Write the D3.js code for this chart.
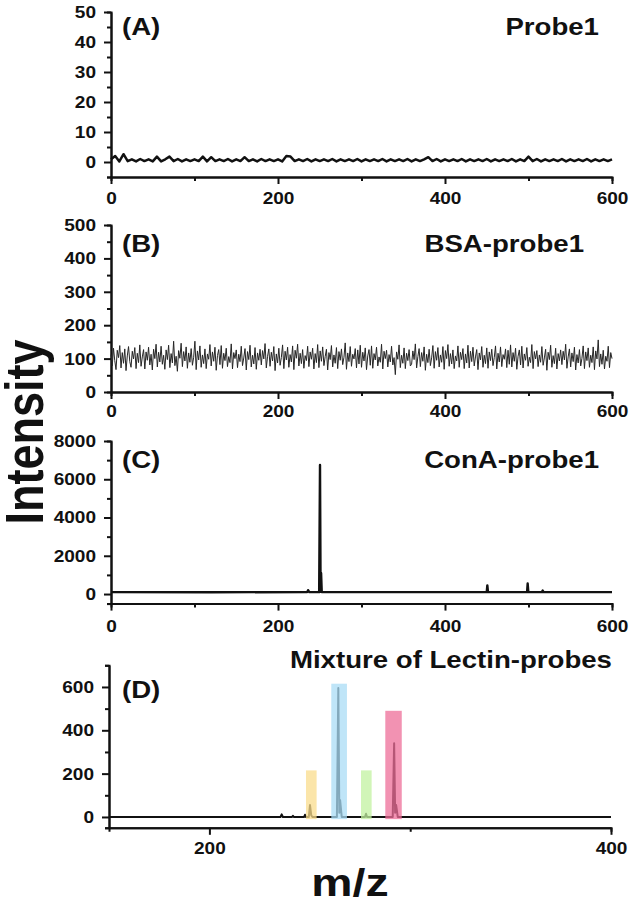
<!DOCTYPE html>
<html>
<head>
<meta charset="utf-8">
<script src="https://cdn.jsdelivr.net/npm/d3@7"></script>
<style>
  body { margin: 0; background: #fff; }
  svg { display: block; font-family: "Liberation Sans", Arial, sans-serif; font-weight: bold; }
  .axis path, .axis line { stroke: #111; stroke-width: 2; }
  .axis text { font-size: 17px; font-weight: bold; fill: #111; font-family: "Liberation Sans", Arial, sans-serif; }
</style>
</head>
<body>
<svg id="chart" width="639" height="903"></svg>
<script>
// (A) Probe1: intensity every 5 m/z from 0 to 600
const probe1Step = 5;
const probe1Values = [0.9,2.0,0.2,2.6,0.3,0.9,0.2,1.0,0.3,0.9,0.2,1.8,0.2,0.9,1.8,0.3,1.0,0.2,0.9,0.3,
  0.9,0.3,1.8,0.2,1.6,0.3,0.9,0.3,1.0,0.2,0.9,0.3,1.6,0.3,0.9,0.2,1.0,0.3,0.9,0.3,
  0.9,0.2,2.0,1.8,0.3,0.9,0.3,1.0,0.2,0.9,0.3,0.9,0.3,1.0,0.2,0.9,0.3,0.9,0.3,1.0,
  0.2,0.9,0.3,0.9,0.3,1.0,0.2,0.9,0.3,0.9,0.3,1.0,0.2,0.9,0.3,0.9,1.6,0.3,1.0,0.2,
  0.9,0.3,0.9,0.3,1.0,0.2,0.9,0.3,0.9,0.3,1.0,0.2,0.9,0.3,0.9,0.3,1.0,0.2,0.9,0.3,
  1.8,0.3,1.0,0.2,0.9,0.3,0.9,0.3,1.0,0.2,0.9,0.3,0.9,0.3,1.0,0.2,0.9,0.3,0.9,0.3,0.9];

// (B) BSA-probe1: intensity every 1.5 m/z from 0 to 600
const bsaStep = 1.5;
const bsaValues = [
  112,78,131,94,67,125,103,139,72,118,86,129,64,108,136,91,74,122,99,133,
  70,116,88,141,77,105,127,69,120,95,134,81,113,66,128,100,143,75,119,90,
  137,83,110,68,126,97,140,73,115,87,152,79,107,62,124,101,146,76,121,93,
  135,71,117,89,130,80,104,152,67,123,96,138,74,111,85,129,70,114,98,142,
  78,120,92,134,65,109,127,82,139,71,116,94,131,76,106,88,144,69,118,100,
  126,73,113,91,137,79,102,130,66,121,97,140,75,110,84,133,68,117,95,128,
  81,124,99,145,72,107,129,77,119,93,136,64,114,87,131,80,103,141,70,122,
  96,134,74,112,90,138,67,125,101,143,78,116,85,127,71,109,94,137,76,120,
  98,131,69,115,88,142,73,123,92,135,79,106,128,66,118,97,139,75,111,86,
  133,70,121,95,129,82,104,147,68,117,91,136,77,113,99,130,72,126,84,140,
  74,119,93,132,67,108,127,80,138,71,115,96,134,78,105,89,143,69,122,100,
  125,75,112,90,137,81,103,52,120,98,141,73,110,86,132,70,116,94,127,78,
  83,123,97,144,72,106,130,76,118,92,135,65,113,88,128,79,102,139,71,121,
  95,133,75,111,89,136,68,124,100,142,77,115,84,126,70,108,93,138,74,119,
  97,130,70,114,87,140,72,122,91,134,78,105,127,67,117,96,136,74,110,85,
  132,71,120,94,128,79,103,138,69,116,90,135,76,112,98,129,73,125,83,141,
  75,118,92,131,68,107,126,81,137,72,114,95,133,77,104,88,142,70,121,99,
  124,76,111,89,136,80,102,128,65,119,97,140,74,109,85,131,69,115,93,126,
  82,122,96,143,71,105,129,75,117,91,134,66,112,87,127,78,101,138,70,120,
  94,132,74,110,88,135,67,123,99,156,76,114,83,125,69,107,92,137,73,118,
  100];

// (C) ConA-probe1: [m/z, intensity]
const conaPoints = [[0,100],[120,95],[235,100],[236,200],[237.5,100],[249.3,100],[250.3,6750],[251,120],
  [251.6,1100],[252.4,100],[300,100],[450,100],[450.7,450],[451.5,100],[498.3,100],[499,550],[499.8,100],
  [516,100],[517,180],[518,100],[600,100]];

// (D) Mixture of Lectin-probes: [m/z, intensity]
const mixPoints = [[150,0],[235.4,0],[236,12],[236.6,0],[241.2,0],[241.6,5],[242,0],[247.2,0],[247.6,10],[248,0],
  [249.5,0],[250.1,55],[250.7,8],[251.3,0],[263.5,0],[264.2,595],[264.7,20],[265.1,78],[265.9,0],
  [277.5,0],[278,15],[278.5,0],[291.3,0],[292,340],[292.5,20],[293,55],[293.8,0],[400,0]];
const mixBands = [
  {from: 248.1, to: 253.4, top: 215, color: "#f9dc8c"},
  {from: 260.7, to: 268.5, top: 615, color: "#a9dcf6"},
  {from: 275.5, to: 280.8, top: 215, color: "#c2f2a0"},
  {from: 287.6, to: 295.8, top: 490, color: "#ee6e98"}
];

const panels = [
  {tag: "(A)", title: "Probe1", xRange: [111, 612], xDomain: [0, 600], yRange: [177, 12], yDomain: [-5, 50],
   yMajor: [0,10,20,30,40,50], yMinor: [-5,5,15,25,35,45], xMajor: [0,200,400,600], xMinor: [100,300,500],
   tagY: 35, titleX: 599, titleY: 35, pad: 8, lineW: 2.5,
   data: probe1Values.map((v, i) => [i * probe1Step, v])},
  {tag: "(B)", title: "BSA-probe1", xRange: [111, 612], xDomain: [0, 600], yRange: [392, 225], yDomain: [0, 500],
   yMajor: [0,100,200,300,400,500], yMinor: [50,150,250,350,450], xMajor: [0,200,400,600], xMinor: [100,300,500],
   tagY: 252, titleX: 584, titleY: 252, pad: 6, lineW: 1, color: "#262626",
   data: bsaValues.map((v, i) => [i * bsaStep, v])},
  {tag: "(C)", title: "ConA-probe1", xRange: [111, 612], xDomain: [0, 600], yRange: [603.6, 441], yDomain: [-500, 8000],
   yMajor: [0,2000,4000,6000,8000], yMinor: [-500,1000,3000,5000,7000], xMajor: [0,200,400,600], xMinor: [100,300,500],
   tagY: 468, titleX: 599, titleY: 468, pad: 9, lineW: 2.4,
   data: conaPoints},
  {tag: "(D)", title: "Mixture of Lectin-probes", xRange: [109, 611], xDomain: [150, 400], yRange: [827.8, 665.3], yDomain: [-50, 700],
   yMajor: [0,200,400,600], yMinor: [-50,100,300,500,700], xMajor: [200,400], xMinor: [300],
   tagY: 698, titleX: 612, titleY: 668, pad: 7, lineW: 2,
   data: mixPoints, bands: mixBands}
];

const svg = d3.select("#chart");

// the source figure is drawn a little wider than the font: widen text glyphs
function widen(sel, k) {
  sel.each(function() {
    const w = this.getComputedTextLength();
    d3.select(this).attr("textLength", w * k).attr("lengthAdjust", "spacingAndGlyphs");
  });
}

panels.forEach(p => {
  const x = d3.scaleLinear().domain(p.xDomain).range(p.xRange);
  const y = d3.scaleLinear().domain(p.yDomain).range(p.yRange);
  const g = svg.append("g");
  const bottom = p.yRange[0];

  // minor ticks
  g.append("g").attr("class", "axis").attr("transform", `translate(${p.xRange[0]},0)`)
    .call(d3.axisLeft(y).tickValues(p.yMinor).tickSize(4).tickFormat(""));
  g.append("g").attr("class", "axis").attr("transform", `translate(0,${bottom})`)
    .call(d3.axisBottom(x).tickValues(p.xMinor).tickSize(4).tickFormat(""));
  // major ticks
  const yAx = g.append("g").attr("class", "axis").attr("transform", `translate(${p.xRange[0]},0)`)
    .call(d3.axisLeft(y).tickValues(p.yMajor).tickSize(7).tickSizeOuter(0).tickPadding(8).tickFormat(d3.format("d")));
  const xAx = g.append("g").attr("class", "axis").attr("transform", `translate(0,${bottom})`)
    .call(d3.axisBottom(x).tickValues(p.xMajor).tickSize(7).tickSizeOuter(0).tickPadding(p.pad).tickFormat(d3.format("d")));
  widen(yAx.selectAll("text"), 1.12);
  widen(xAx.selectAll("text"), 1.12);

  const line = d3.line().x(d => x(d[0])).y(d => y(d[1]));
  g.append("path").datum(p.data)
    .attr("d", line)
    .attr("fill", "none")
    .attr("stroke", p.color || "#111")
    .attr("stroke-width", p.lineW)
    .attr("stroke-linejoin", "round");

  if (p.bands) {
    g.selectAll("rect.band").data(p.bands).join("rect")
      .attr("class", "band")
      .attr("x", d => x(d.from))
      .attr("width", d => x(d.to) - x(d.from))
      .attr("y", d => y(d.top))
      .attr("height", d => y(-10) - y(d.top))
      .attr("fill", d => d.color)
      .attr("opacity", 0.75);
  }

  const tag = g.append("text").attr("x", 122).attr("y", p.tagY)
    .attr("font-size", 24).attr("fill", "#111").text(p.tag);
  const title = g.append("text").attr("x", p.titleX).attr("y", p.titleY)
    .attr("text-anchor", "end").attr("font-size", 24).attr("fill", "#111").text(p.title);
  widen(tag, 1.15);
  widen(title, 1.15);
});

svg.append("text")
  .attr("transform", "translate(43,432) rotate(-90) scale(1,1.18)")
  .attr("text-anchor", "middle")
  .attr("font-size", 45).attr("fill", "#111")
  .text("Intensity");

const mz = svg.append("text")
  .attr("x", 350).attr("y", 896)
  .attr("text-anchor", "middle")
  .attr("font-size", 38).attr("fill", "#111")
  .text("m/z");
widen(mz, 1.22);
</script>
</body>
</html>
